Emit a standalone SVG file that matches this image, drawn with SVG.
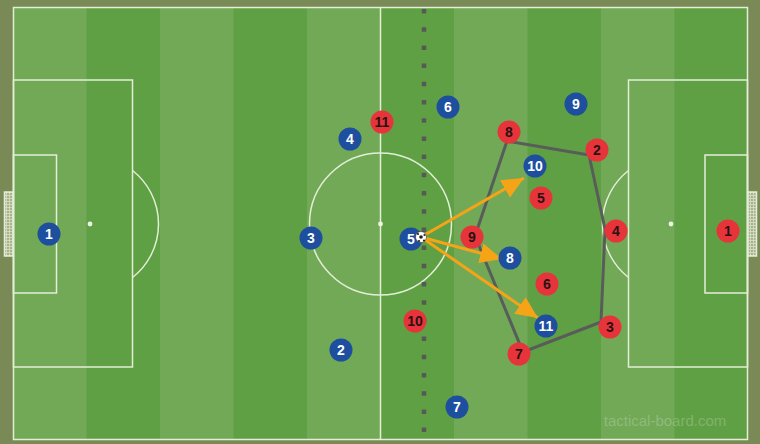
<svg xmlns="http://www.w3.org/2000/svg" width="760" height="444" viewBox="0 0 760 444">
<defs>
<style>
.ln{fill:none;stroke:#e4eed6;stroke-width:1.5}
.spot{fill:#eef4e4}
.goal{fill:url(#net);stroke:#e4eed6;stroke-width:1.5}
.blue circle{fill:#1d4f9e}
.red circle{fill:#e7343a}
.blue text{fill:#ffffff}
.red text{fill:#2a1212}
.p text{font-family:"Liberation Sans",Arial,sans-serif;font-weight:bold;font-size:14px;text-anchor:middle;dominant-baseline:central}
.arr{stroke:#f5a418;stroke-width:3;fill:none;marker-end:url(#ah)}
.poly{fill:none;stroke:#595d59;stroke-width:3;stroke-linejoin:round}
</style>
<pattern id="net" width="3" height="3" patternUnits="userSpaceOnUse">
<rect width="3" height="3" fill="#a9b38c"/>
<path d="M0 0.5H3M0.5 0V3" stroke="#d8e0c8" stroke-width="0.8"/>
</pattern>
<marker id="ah" markerUnits="userSpaceOnUse" markerWidth="24" markerHeight="20" refX="22" refY="10" orient="auto">
<path d="M0 0L22 10L0 20Z" fill="#f5a418"/>
</marker>
</defs>
<rect width="760" height="444" fill="#7a8a57"/>
<g id="pitch">
<rect x="13" y="7" width="735" height="433" fill="#71a957"/>
<rect x="86.5" y="7" width="73.5" height="433" fill="#60a045"/>
<rect x="233.5" y="7" width="73.5" height="433" fill="#60a045"/>
<rect x="380.5" y="7" width="73.5" height="433" fill="#60a045"/>
<rect x="527.5" y="7" width="73.5" height="433" fill="#60a045"/>
<rect x="674.5" y="7" width="73.5" height="433" fill="#60a045"/>
<rect class="ln" x="13.5" y="7.5" width="734" height="432"/>
<line class="ln" x1="380.5" y1="7.5" x2="380.5" y2="439.5"/>
<circle class="ln" cx="380.5" cy="224" r="71"/>
<circle class="spot" cx="380.5" cy="224" r="2.4"/>
<rect class="ln" x="13.5" y="80" width="119" height="287"/>
<rect class="ln" x="13.5" y="155" width="43" height="138"/>
<circle class="spot" cx="90" cy="224" r="2.4"/>
<path class="ln" d="M132.5 170.5A68 68 0 0 1 132.5 277.5"/>
<rect class="ln" x="628.5" y="80" width="119" height="287"/>
<rect class="ln" x="705" y="155" width="42.5" height="138"/>
<circle class="spot" cx="671" cy="224" r="2.4"/>
<path class="ln" d="M628.5 170.5A68 68 0 0 0 628.5 277.5"/>
<rect class="goal" x="4.5" y="192" width="8.5" height="64"/>
<rect class="goal" x="748" y="192" width="8.5" height="64"/>
<line x1="424" y1="9" x2="424" y2="440" stroke="#555a55" stroke-width="4.5" stroke-dasharray="4.5 13.7"/>
<text x="665" y="426" font-family="'Liberation Sans',Arial,sans-serif" font-size="15" fill="#ffffff" fill-opacity="0.22" text-anchor="middle">tactical-board.com</text>
</g>
<g id="connectors">
<polygon class="poly" points="507,141 589,155 605,229 601,322 523,352 475,236"/>
<line class="arr" x1="421" y1="237" x2="524" y2="178"/>
<line class="arr" x1="421" y1="237" x2="502" y2="259"/>
<line class="arr" x1="421" y1="237" x2="538" y2="318"/>
</g>
<g id="blue-1" class="p blue"><circle cx="49" cy="234" r="11.5"/><text x="49" y="234">1</text></g>
<g id="blue-2" class="p blue"><circle cx="341" cy="350" r="11.5"/><text x="341" y="350">2</text></g>
<g id="blue-3" class="p blue"><circle cx="311" cy="238" r="11.5"/><text x="311" y="238">3</text></g>
<g id="blue-4" class="p blue"><circle cx="350" cy="139" r="11.5"/><text x="350" y="139">4</text></g>
<g id="blue-5" class="p blue"><circle cx="411" cy="239" r="11.5"/><text x="411" y="239">5</text></g>
<g id="blue-6" class="p blue"><circle cx="448" cy="107" r="11.5"/><text x="448" y="107">6</text></g>
<g id="blue-7" class="p blue"><circle cx="457" cy="407" r="11.5"/><text x="457" y="407">7</text></g>
<g id="blue-8" class="p blue"><circle cx="510" cy="258" r="11.5"/><text x="510" y="258">8</text></g>
<g id="blue-9" class="p blue"><circle cx="576" cy="104" r="11.5"/><text x="576" y="104">9</text></g>
<g id="blue-10" class="p blue"><circle cx="535" cy="166" r="11.5"/><text x="535" y="166">10</text></g>
<g id="blue-11" class="p blue"><circle cx="546" cy="326" r="11.5"/><text x="546" y="326">11</text></g>
<g id="red-1" class="p red"><circle cx="728" cy="231" r="11.5"/><text x="728" y="231">1</text></g>
<g id="red-2" class="p red"><circle cx="597" cy="150" r="11.5"/><text x="597" y="150">2</text></g>
<g id="red-3" class="p red"><circle cx="610" cy="327" r="11.5"/><text x="610" y="327">3</text></g>
<g id="red-4" class="p red"><circle cx="616" cy="231" r="11.5"/><text x="616" y="231">4</text></g>
<g id="red-5" class="p red"><circle cx="541" cy="198" r="11.5"/><text x="541" y="198">5</text></g>
<g id="red-6" class="p red"><circle cx="547" cy="284" r="11.5"/><text x="547" y="284">6</text></g>
<g id="red-7" class="p red"><circle cx="519" cy="354" r="11.5"/><text x="519" y="354">7</text></g>
<g id="red-8" class="p red"><circle cx="509" cy="132" r="11.5"/><text x="509" y="132">8</text></g>
<g id="red-9" class="p red"><circle cx="472" cy="237" r="11.5"/><text x="472" y="237">9</text></g>
<g id="red-10" class="p red"><circle cx="415" cy="321" r="11.5"/><text x="415" y="321">10</text></g>
<g id="red-11" class="p red"><circle cx="382" cy="122" r="11.5"/><text x="382" y="122">11</text></g>
<g id="ball">
<circle cx="421" cy="237" r="5.5" fill="#ffffff" stroke="#333" stroke-width="0.6"/>
<circle cx="421" cy="237" r="1.8" fill="#222"/>
<circle cx="418" cy="234" r="1.1" fill="#222"/>
<circle cx="424.5" cy="235" r="1.1" fill="#222"/>
<circle cx="419" cy="241" r="1.1" fill="#222"/>
<circle cx="424" cy="240.5" r="1.1" fill="#222"/>
</g>
</svg>
